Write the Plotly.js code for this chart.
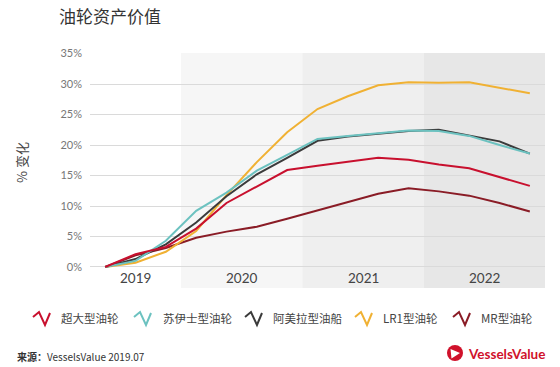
<!DOCTYPE html>
<html>
<head>
<meta charset="utf-8">
<script src="https://cdn.plot.ly/plotly-3.0.1.min.js"></script>
<style>
html,body{margin:0;padding:0;background:#fff;}
#chart{width:560px;height:367px;}
</style>
</head>
<body>
<div id="chart"></div>
<script>
// Quarterly observation index (0 = start of 2019 series)
const quarters = [0,1,2,3,4,5,6,7,8,9,10,11,12,13,14];
const seriesNames = ['超大型油轮','苏伊士型油轮','阿美拉型油船','LR1型油轮','MR型油轮'];
const seriesColors = ['#c8102e','#6cc2c0','#3b3b3b','#f0b133','#8a1c26'];
const vlcc    = [0,2.1,3.3,6.3,10.5,13.2,15.9,16.6,17.3,17.9,17.6,16.8,16.2,14.7,13.3];
const suezmax = [0,1.0,4.3,9.2,12.2,15.8,18.4,21.0,21.5,22.0,22.4,22.3,21.5,20.0,18.6];
const aframax = [0,1.3,3.7,7.3,11.6,15.2,17.9,20.7,21.4,21.9,22.3,22.5,21.6,20.6,18.6];
const lr1     = [0,0.7,2.5,5.9,11.8,17.2,22.1,25.9,28.0,29.8,30.3,30.2,30.3,29.4,28.5];
const mr      = [0,1.9,3.1,4.8,5.8,6.6,7.9,9.3,10.7,12.0,12.9,12.4,11.7,10.5,9.1];
const seriesValues = [vlcc, suezmax, aframax, lr1, mr];
const yearLabels = ['2019','2020','2021','2022'];
const yearBands = [[-0.5,2.5],[2.5,6.5],[6.5,10.5],[10.5,14.5]];
const yTicks = [0,5,10,15,20,25,30,35];

const bandColors = ['#ffffff','#f6f6f6','#efefef','#e7e7e7'];

// layout geometry helpers (pixel -> paper)
const L=90, R=545, T=53, B=288;
const px = X => (X-L)/(R-L);
const py = Y => (B-Y)/(B-T);

const drawOrder = [4,3,2,1,0];
const traces = drawOrder.map(i => ({
  x: quarters, y: seriesValues[i], type:'scatter', mode:'lines',
  name: seriesNames[i], line:{color: seriesColors[i], width:2},
  hoverinfo:'skip', showlegend:false
}));

const shapes = [];
const annotations = [];
yearBands.forEach((b,i)=>{
  shapes.push({type:'rect', xref:'x', yref:'paper', x0:b[0], x1:b[1], y0:0, y1:1,
    fillcolor: bandColors[i], line:{width:0}, layer:'below'});
  annotations.push({x:(b[0]+b[1])/2, y:-1.75, xref:'x', yref:'y', text:yearLabels[i],
    showarrow:false, font:{family:'Lato, Open Sans, sans-serif', size:13.5, color:'#444'}});
});

// legend (custom zigzag icons)
const legendIconX = [33,134,245,355,453];
const legendTextX = [59,161,271,381,479];
seriesNames.forEach((n,i)=>{
  const x0 = legendIconX[i];
  const pts = [[x0,317],[x0+6,312],[x0+12,325],[x0+17,313]];
  const d = pts.map((p,k)=>(k?'L':'M')+px(p[0]).toFixed(4)+','+py(p[1]).toFixed(4)).join(' ');
  shapes.push({type:'path', xref:'paper', yref:'paper', path:d,
    line:{color:seriesColors[i], width:2}});
  annotations.push({xref:'paper', yref:'paper', x:px(legendTextX[i]), y:py(318),
    xanchor:'left', yanchor:'middle', showarrow:false, text:n,
    font:{family:'Noto Sans CJK SC, sans-serif', size:11.5, color:'#444'}});
});

// y-axis title
annotations.push({xref:'paper', yref:'paper', x:px(21), y:py(163), textangle:-90,
  showarrow:false, text:'% 变化', xanchor:'center', yanchor:'middle',
  font:{family:'Noto Sans CJK SC, sans-serif', size:13, color:'#444'}});

// source
annotations.push({xref:'paper', yref:'paper', x:px(15), y:py(356), xanchor:'left', yanchor:'middle',
  showarrow:false, text:'<b>来源：</b>VesselsValue 2019.07',
  font:{family:'Noto Sans CJK SC, sans-serif', size:10, color:'#333'}});

// logo
shapes.push({type:'circle', xref:'paper', yref:'paper', x0:px(447), x1:px(463), y0:py(361), y1:py(345),
  fillcolor:'#d0112b', line:{width:0}});
shapes.push({type:'path', xref:'paper', yref:'paper',
  path:'M'+px(450.5)+','+py(349)+' L'+px(460)+','+py(353)+' L'+px(451.5)+','+py(358.5)+' Z',
  fillcolor:'#ffffff', line:{width:0}});
annotations.push({xref:'paper', yref:'paper', x:px(466), y:py(354), xanchor:'left', yanchor:'middle',
  showarrow:false, text:'<b>VesselsValue</b>',
  font:{family:'Lato, Open Sans, sans-serif', size:13.5, color:'#d0112b'}});

const layout = {
  width:560, height:367,
  margin:{l:L, r:560-R, t:T, b:367-B, pad:0},
  paper_bgcolor:'#ffffff', plot_bgcolor:'rgba(0,0,0,0)',
  title:{text:'油轮资产价值', x:59/560, xanchor:'left', xref:'container', yref:'container',
    y:1-17/367, yanchor:'middle',
    font:{family:'Noto Sans CJK SC, sans-serif', size:17, color:'#333'}},
  showlegend:false,
  xaxis:{range:[-0.5,14.5], showgrid:false, zeroline:false, showticklabels:false,
    ticks:'', showline:false, fixedrange:true},
  yaxis:{range:[-3.45,35.1], tickvals:yTicks, ticktext:yTicks.map(v=>v+'%'),
    showgrid:true, gridcolor:'#dadada', gridwidth:1, zeroline:false, ticks:'',
    ticklabelstandoff:7, showline:false,
    tickfont:{family:'Lato, Open Sans, sans-serif', size:11, color:'#777'}},
  shapes:shapes, annotations:annotations
};

Plotly.newPlot('chart', traces, layout, {displayModeBar:false, staticPlot:true});
</script>
</body>
</html>
